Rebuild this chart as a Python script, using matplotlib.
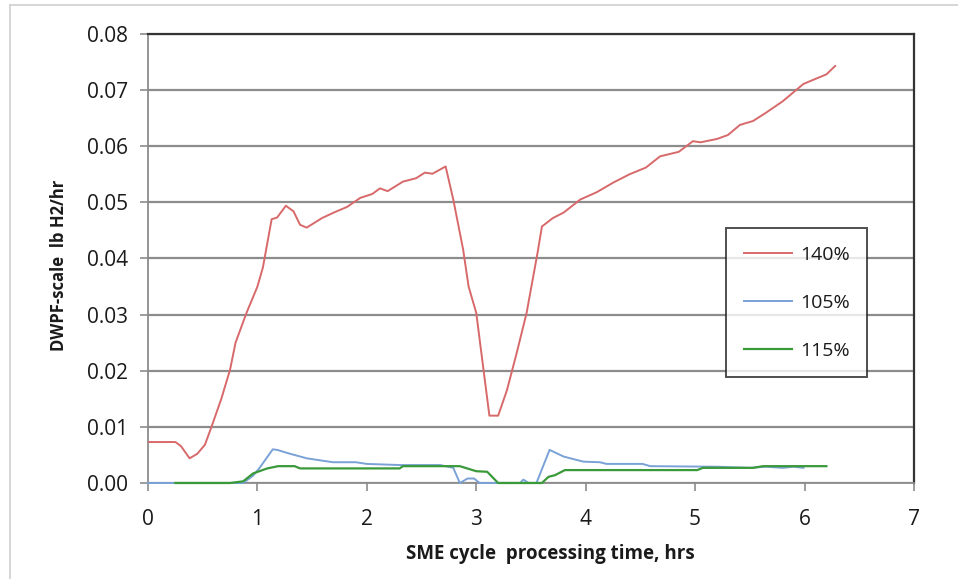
import matplotlib.pyplot as plt
from matplotlib.lines import Line2D

# 140% run
x_140 = [0.0, 0.25, 0.30, 0.38, 0.45, 0.52, 0.58, 0.67, 0.75, 0.80, 0.90, 1.00, 1.05,
         1.13, 1.18, 1.26, 1.33, 1.39, 1.45, 1.59, 1.70, 1.82, 1.94, 2.05, 2.12, 2.19,
         2.33, 2.45, 2.53, 2.60, 2.72, 2.79, 2.88, 2.93, 3.00, 3.07, 3.12, 3.20, 3.28,
         3.37, 3.46, 3.56, 3.60, 3.70, 3.80, 3.95, 4.10, 4.25, 4.40, 4.55, 4.68, 4.85,
         4.98, 5.05, 5.20, 5.30, 5.41, 5.53, 5.65, 5.80, 5.99, 6.10, 6.20, 6.28]
y_140 = [0.0073, 0.0073, 0.0066, 0.0044, 0.0052, 0.0068, 0.0100, 0.0150, 0.0202, 0.0250,
         0.0303, 0.0350, 0.0384, 0.0470, 0.0473, 0.0494, 0.0484, 0.0460, 0.0455, 0.0472,
         0.0482, 0.0492, 0.0508, 0.0515, 0.0525, 0.0520, 0.0537, 0.0543, 0.0553, 0.0551,
         0.0564, 0.0505, 0.0416, 0.0350, 0.0303, 0.0196, 0.0120, 0.0120, 0.0165,
         0.0232, 0.0303, 0.0410, 0.0457, 0.0472, 0.0482, 0.0505, 0.0518, 0.0535, 0.0550,
         0.0562, 0.0582, 0.0590, 0.0609, 0.0607, 0.0613, 0.0620, 0.0638, 0.0645, 0.0660,
         0.0680, 0.0711, 0.0720, 0.0728, 0.0743]

# 105% run
x_105 = [0.0, 0.87, 0.96, 1.02, 1.14, 1.18, 1.30, 1.45, 1.69, 1.90, 2.00, 2.30, 2.67,
         2.79, 2.85, 2.92, 2.98, 3.03, 3.40, 3.43, 3.48, 3.55, 3.67, 3.80, 3.98, 4.13,
         4.19, 4.52, 4.59, 5.20, 5.50, 5.65, 5.80, 5.90, 5.99]
y_105 = [0.0, 0.0, 0.0013, 0.0027, 0.0060, 0.0059, 0.0052, 0.0044, 0.0037, 0.0037,
         0.0034, 0.0032, 0.0032, 0.0027, 0.0, 0.0008, 0.0008, 0.0, 0.0, 0.0006, 0.0,
         0.0, 0.0059, 0.0047, 0.0038, 0.0037, 0.0034, 0.0034, 0.0030, 0.0029, 0.0027,
         0.0029, 0.0027, 0.0029, 0.0027]

# 115% run
x_115 = [0.25, 0.75, 0.87, 0.96, 1.09, 1.19, 1.34, 1.39, 2.30, 2.33, 2.85, 3.00, 3.10,
         3.20, 3.60, 3.66, 3.72, 3.81, 5.02, 5.07, 5.53, 5.62, 6.20]
y_115 = [0.0, 0.0, 0.0003, 0.0017, 0.0026, 0.0030, 0.0030, 0.0026, 0.0026, 0.0030,
         0.0030, 0.0021, 0.0020, 0.0, 0.0, 0.0011, 0.0014, 0.0023, 0.0023, 0.0027,
         0.0027, 0.0030, 0.0030]

x_ticks = [0, 1, 2, 3, 4, 5, 6, 7]
y_ticks = [0.00, 0.01, 0.02, 0.03, 0.04, 0.05, 0.06, 0.07, 0.08]


def main():
    plt.rcParams["font.family"] = ["Open Sans", "DejaVu Sans"]

    fig = plt.figure(figsize=(9.58, 5.79), dpi=100)
    fig.patch.set_facecolor("#ffffff")
    # faint frame of the chart area (only left and top survive the crop)
    fig.lines.append(Line2D([0.0105, 0.0105], [0.0, 0.991], transform=fig.transFigure,
                            color="#d0d0d0", linewidth=1.2))
    fig.lines.append(Line2D([0.0105, 1.0], [0.991, 0.991], transform=fig.transFigure,
                            color="#d0d0d0", linewidth=1.2))

    ax = fig.add_axes([0.1545, 0.1658, 0.7995, 0.7755])

    ax.plot(x_140, y_140, color="#d8696b", linewidth=1.4, label="140%", zorder=3)
    ax.plot(x_105, y_105, color="#7aa2d6", linewidth=1.4, label="105%", zorder=3,
            clip_on=False)
    ax.plot(x_115, y_115, color="#3a9a3a", linewidth=1.6, label="115%", zorder=3,
            clip_on=False)

    ax.set_xlim(0, 7)
    ax.set_ylim(0, 0.08)
    ax.set_xticks(x_ticks)
    ax.set_yticks(y_ticks)
    ax.set_yticklabels([f"{v:.2f}" for v in y_ticks])

    ax.yaxis.grid(True, color="#8c8c8c", linewidth=1.6)
    ax.set_axisbelow(True)

    ax.tick_params(axis="both", direction="out", length=6, width=1.2, color="#8c8c8c",
                   labelsize=15, labelcolor="#1a1a1a")
    ax.tick_params(axis="y", pad=8.5)
    ax.tick_params(axis="x", pad=13)

    ax.spines["left"].set_color("#8c8c8c")
    ax.spines["bottom"].set_color("#8c8c8c")
    ax.spines["left"].set_linewidth(1.3)
    ax.spines["bottom"].set_linewidth(1.3)
    ax.spines["top"].set_color("#333333")
    ax.spines["right"].set_color("#333333")
    ax.spines["top"].set_linewidth(1.6)
    ax.spines["right"].set_linewidth(1.6)

    ax.set_xlabel("SME cycle  processing time, hrs", fontsize=13.5, fontweight="bold",
                  color="#1a1a1a")
    ax.xaxis.set_label_coords(0.525, -0.135)
    ax.set_ylabel("DWPF-scale  lb H2/hr", fontsize=12, fontweight="bold",
                  color="#1a1a1a")
    ax.yaxis.set_label_coords(-0.105, 0.485)

    legend = ax.legend(loc="upper left", bbox_to_anchor=(726 / 958, 1 - 228 / 579),
                       bbox_transform=fig.transFigure, fontsize=14, frameon=True,
                       fancybox=False, edgecolor="#222222", labelspacing=1.55,
                       handlelength=2.5, handletextpad=0.4, borderpad=0.9,
                       borderaxespad=0)
    legend.get_frame().set_linewidth(1.4)
    for text in legend.get_texts():
        text.set_color("#1a1a1a")

    fig.savefig("out.png", dpi=100)


if __name__ == "__main__":
    main()
